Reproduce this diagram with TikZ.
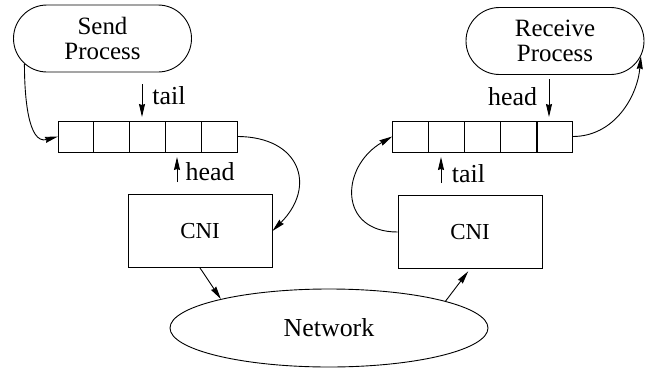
\documentclass[tikz,border=0pt]{standalone}
\usepackage{fontspec}
\setmainfont{Liberation Serif}
\usetikzlibrary{arrows.meta, shapes.misc, shapes.geometric}
\tikzset{>={Stealth[length=13bp, width=6bp, inset=1bp]}}
\tikzset{
    proc/.style={draw, rounded rectangle, minimum width=178bp, minimum height=67bp,
        inner sep=0pt, align=center, font=\fontsize{25}{25}\selectfont},
    cell/.style={draw, minimum width=35.8bp, minimum height=31bp, inner sep=0pt, outer sep=0pt},
    cni/.style={draw, minimum width=144bp, minimum height=73bp, font=\fontsize{23}{26}\selectfont},
    lbl/.style={inner sep=0pt, font=\fontsize{26}{26}\selectfont}
}

\begin{document}
\begin{tikzpicture}[x=1bp, y=1bp, line width=0.9bp]
    \useasboundingbox (0,0) rectangle (649,369);
    % processes
    \node[proc] (send) at (102.5,330.5) {Send\\Process};
    \node[proc] (recv) at (555,328) {Receive\\Process};
    % queues
    \foreach \i in {1,...,5} {
    \node[cell] (lq\i) at ({58+35.8*(\i-0.5)},232.5) {};
    \node[cell] (rq\i) at ({392+36.2*(\i-0.5)},232.5) {};
    }
    % interfaces and network
    \node[cni] (lcni) at (200,138) {CNI};
    \node[cni] (rcni) at (470,137) {CNI};
    \node[draw, ellipse, minimum width=318bp, minimum height=78bp, inner sep=0pt,
        font=\fontsize{26}{26}\selectfont] (net) at (329,41) {Network};
    % head and tail pointers
    \coordinate (ltail) at (142,285);
    \coordinate (lhead) at (177,187);
    \coordinate (rhead) at (549,290);
    \coordinate (rtail) at (441,186);
    \draw[->, shorten >=4bp] (ltail) -- (ltail |- lq3.north);
    \draw[->, shorten >=5bp] (lhead) -- (lhead |- lq5.south);
    \draw[->, shorten >=4bp] (rhead) -- (rhead |- rq5.north);
    \draw[->, shorten >=5bp] (rtail) -- (rtail |- rq2.south);
    \node[lbl] (ltaillbl) at (169,273) {tail};
    \node[lbl] (lheadlbl) at (210,197.5) {head};
    \node[lbl] (rheadlbl) at (512.5,272.5) {head};
    \node[lbl] (rtaillbl) at (468.5,195) {tail};
    % data flow
    \draw[->] (send.198) to[out=-90, in=195] (lq1.west);
    \draw[->] (lq5.east) to[out=0, in=45, looseness=1.6] (lcni.east);
    \draw[->] (lcni.south) -- (net.165);
    \draw[->, shorten >=3bp] (net.13) -- (rcni.south);
    \draw[->] (rcni.west) to[out=180, in=210, looseness=1.6] (rq1.west);
    \draw[->] (rq5.east) to[out=0, in=-95] (recv.350);
\end{tikzpicture}
\end{document}
